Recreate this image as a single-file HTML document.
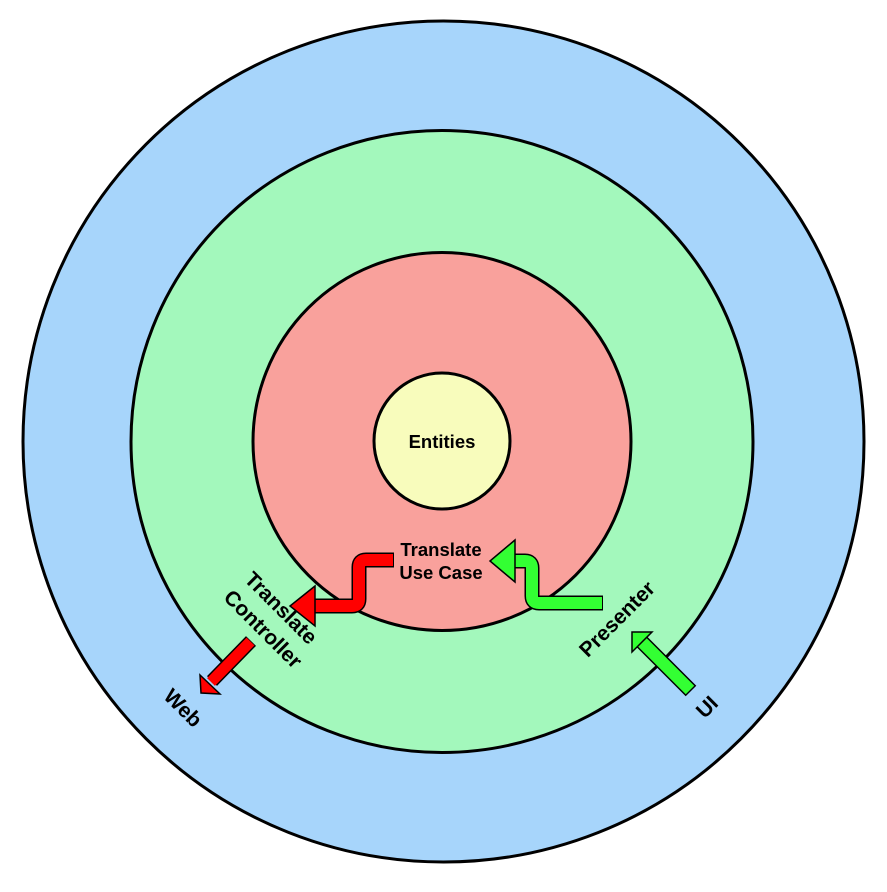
<!DOCTYPE html>
<html><head><style>body{margin:0;background:#fff}</style></head><body>
<svg width="887" height="887" viewBox="0 0 887 887" xmlns="http://www.w3.org/2000/svg" font-family="Liberation Sans, Arial, sans-serif" font-weight="bold" font-size="18.5">
<circle cx="443.5" cy="441.5" r="420.5" fill="#a7d5fb" stroke="#000" stroke-width="3"/>
<circle cx="442" cy="441.5" r="311" fill="#a3f8bc" stroke="#000" stroke-width="3"/>
<circle cx="442" cy="441.5" r="189" fill="#f9a19c" stroke="#000" stroke-width="3"/>
<circle cx="442" cy="441" r="68" fill="#f8fcbc" stroke="#000" stroke-width="3"/>
<text x="442" y="448" text-anchor="middle">Entities</text>
<text x="441" y="556" text-anchor="middle">Translate</text>
<text x="441" y="579" text-anchor="middle">Use Case</text>
<path d="M394,560 H366 Q359,560 359,567 V599 Q359,606 352,606 H314" fill="none" stroke="#000" stroke-width="15"/>
<path d="M393,560 H366 Q359,560 359,567 V599 Q359,606 352,606 H313" fill="none" stroke="#f00" stroke-width="12"/>
<polygon points="315,586 290,606 315,626" fill="#f00" stroke="#000" stroke-width="1.5"/>
<path d="M251,641 L212,681" stroke="#000" stroke-width="14"/>
<path d="M250.5,641.5 L211,682" stroke="#f00" stroke-width="11"/>
<polygon points="200,675 220,694 201,693" fill="#f00" stroke="#000" stroke-width="1.5"/>
<path d="M603,603 H539 Q532,603 532,596 V568 Q532,561 525,561 H514" fill="none" stroke="#000" stroke-width="15"/>
<path d="M602,603 H539 Q532,603 532,596 V568 Q532,561 525,561 H513" fill="none" stroke="#33ff33" stroke-width="12"/>
<polygon points="515,540 490,561 515,582" fill="#33ff33" stroke="#000" stroke-width="1.5"/>
<path d="M691,691 L641,641" stroke="#000" stroke-width="15"/>
<path d="M690,690 L640,640" stroke="#33ff33" stroke-width="12"/>
<polygon points="632,632 632,652 652,632" fill="#33ff33" stroke="#000" stroke-width="1.5"/>
<g font-size="21">
<g transform="translate(276,613) rotate(45)"><text x="0" y="0" text-anchor="middle">Translate</text></g>
<g transform="translate(258,634) rotate(45)"><text x="0" y="0" text-anchor="middle">Controller</text></g>
<g transform="translate(178,713) rotate(45)"><text x="0" y="0" text-anchor="middle">Web</text></g>
<g transform="translate(622,624) rotate(-45)"><text x="0" y="0" text-anchor="middle">Presenter</text></g>
<g transform="translate(712,712) rotate(-45)"><text x="0" y="0" text-anchor="middle">UI</text></g>
</g>
</svg>
</body></html>
